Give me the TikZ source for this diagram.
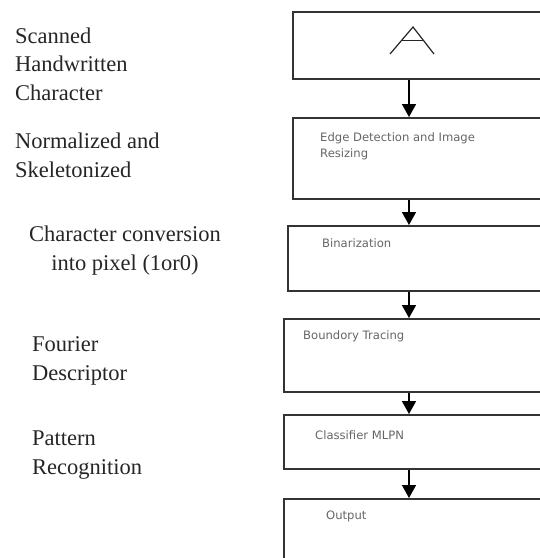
\documentclass[tikz,border=0pt]{standalone}
\usepackage{fontspec}
\setmainfont{Liberation Serif}
\newfontfamily\boxfont{DejaVu Sans}
\usetikzlibrary{arrows.meta,calc}
\begin{document}
\begin{tikzpicture}[x=1pt,y=-1pt,
  stepbox/.style={draw=black!80,line width=1.8pt,inner sep=0pt,anchor=north west},
  boxtext/.style={font=\boxfont\fontsize{11.6}{16}\selectfont,text=black!60,anchor=base west,inner sep=0pt,align=left},
  sidetext/.style={font=\fontsize{22.5}{28.5}\selectfont,text=black!85,anchor=base west,inner sep=0pt,align=left},
  arr/.style={line width=1.5pt,draw=black,-{Triangle[width=14pt,length=13pt]}}]
\clip (0,0) rectangle (540,558);
\fill[white] (0,0) rectangle (540,558);
% boxes
\node[stepbox,minimum width=280pt,minimum height=67pt] (b1) at (292,11) {};
\node[stepbox,minimum width=280pt,minimum height=81pt] (b2) at (292,117) {};
\node[stepbox,minimum width=285pt,minimum height=65pt] (b3) at (287,225) {};
\node[stepbox,minimum width=290pt,minimum height=73pt] (b4) at (283,318) {};
\node[stepbox,minimum width=290pt,minimum height=54pt] (b5) at (283,414) {};
\node[stepbox,minimum width=290pt,minimum height=90pt] (b6) at (283,498) {};
% the letter A
\coordinate (a1) at (390,54);
\coordinate (a2) at (413,27);
\coordinate (a3) at (434,54);
\draw[line width=1.2pt,black!85,line join=miter] (a1) -- (a2) -- (a3);
\draw[line width=1.2pt,black!85] ($(a1)!0.5!(a2)$) -- ($(a3)!0.5!(a2)$);
% box texts (anchor = baseline of last line)
\node[boxtext] (t2) at (320,157) {Edge Detection and Image\\Resizing};
\node[boxtext] (t3) at (322,247) {Binarization};
\node[boxtext] (t4) at (303,339) {Boundory Tracing};
\node[boxtext] (t5) at (315,439) {Classifier MLPN};
\node[boxtext] (t6) at (326,519) {Output};
% arrows
\coordinate (ax) at (409,0);
\draw[arr] (b1.south -| ax) -- (b2.north -| ax);
\draw[arr] (b2.south -| ax) -- (b3.north -| ax);
\draw[arr] (b3.south -| ax) -- (b4.north -| ax);
\draw[arr] (b4.south -| ax) -- (b5.north -| ax);
\draw[arr] (b5.south -| ax) -- (b6.north -| ax);
% side texts (anchor = baseline of last line)
\node[sidetext] (s1) at (15,100) {Scanned\\Handwritten\\Character};
\node[sidetext] (s2) at (15,177) {Normalized and\\Skeletonized};
\node[sidetext,align=center,anchor=base] (s3) at (125,270) {Character conversion\\into pixel (1or0)};
\node[sidetext] (s4) at (32,380) {Fourier\\Descriptor};
\node[sidetext] (s5) at (32,474) {Pattern\\Recognition};
\end{tikzpicture}
\end{document}
